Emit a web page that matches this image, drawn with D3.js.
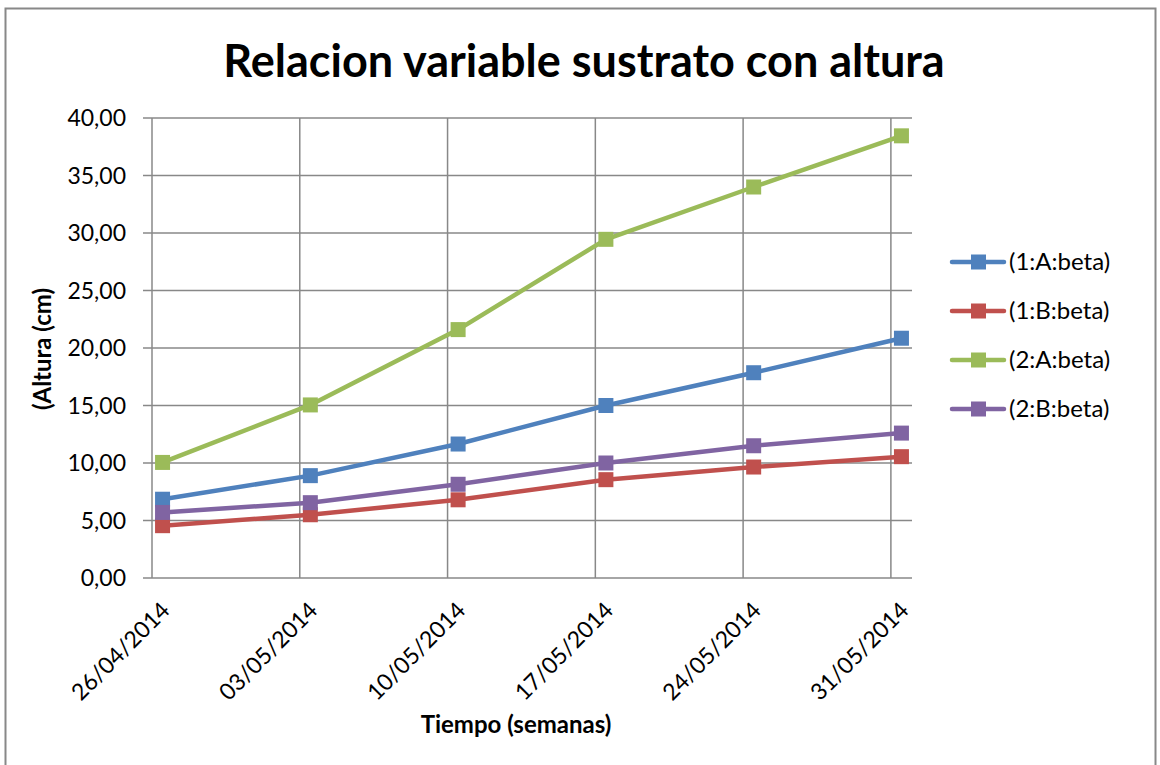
<!DOCTYPE html>
<html>
<head>
<meta charset="utf-8">
<script src="https://cdn.jsdelivr.net/npm/d3@7"></script>
<style>
  body { margin: 0; background: #fff; }
  text { font-family: Lato, "Noto Sans", sans-serif; fill: #000; }
</style>
</head>
<body>
<script>
// data
var dates = ["2014-04-26", "2014-05-03", "2014-05-10", "2014-05-17", "2014-05-24", "2014-05-31"];
var seriesNames = ["(1:A:beta)", "(1:B:beta)", "(2:A:beta)", "(2:B:beta)"];
var serie1A = [6.85, 8.9, 11.65, 15.0, 17.85, 20.85];
var serie1B = [4.55, 5.5, 6.8, 8.55, 9.65, 10.55];
var serie2A = [10.05, 15.05, 21.6, 29.45, 34.0, 38.45];
var serie2B = [5.7, 6.55, 8.15, 10.0, 11.5, 12.6];
var colors = ["#4F81BD", "#C0504D", "#9BBB59", "#8064A2"];
var yTicks = [0, 5, 10, 15, 20, 25, 30, 35, 40];

var parseDate = d3.utcParse("%Y-%m-%d");
var fmtDate = d3.utcFormat("%d/%m/%Y");
var locale = d3.formatLocale({decimal: ",", thousands: ".", grouping: [3], currency: ["", "€"]});
var fmtY = locale.format(".2f");

var margin = {top: 118, right: 248, bottom: 187, left: 152},
    width = 1160 - margin.left - margin.right,
    height = 765 - margin.top - margin.bottom;

var svg = d3.select("body").append("svg")
    .attr("width", 1160)
    .attr("height", 765);

// outer chart border
svg.append("rect")
    .attr("x", 5.5).attr("y", 8.5)
    .attr("width", 1150).attr("height", 780)
    .attr("fill", "none")
    .attr("stroke", "#888")
    .attr("stroke-width", 2);

svg.append("text")
    .attr("x", 584)
    .attr("y", 77)
    .attr("text-anchor", "middle")
    .style("font-size", "45px")
    .style("font-weight", "bold")
    .text("Relacion variable sustrato con altura");

var g = svg.append("g")
    .attr("transform", "translate(" + margin.left + "," + margin.top + ")");

// date axis, one day slot per date, points in the middle of the slot
var first = parseDate(dates[0]);
var last = d3.utcDay.offset(parseDate(dates[dates.length - 1]), 1);
var x = d3.scaleUtc().domain([first, last]).range([0, width]);
var y = d3.scaleLinear().domain([0, 40]).range([height, 0]);

var tickDates = dates.map(parseDate);
var px = function (d) { return x(d3.utcHour.offset(d, 12)); };

// horizontal gridlines (with little tick stubs on the left)
g.append("g").selectAll("line")
    .data(yTicks)
    .join("line")
    .attr("x1", -9).attr("x2", width)
    .attr("y1", function (d) { return y(d); })
    .attr("y2", function (d) { return y(d); })
    .attr("stroke", "#888")
    .attr("stroke-width", 1.5);

// vertical gridlines
g.append("g").selectAll("line")
    .data(tickDates)
    .join("line")
    .attr("x1", function (d) { return x(d); })
    .attr("x2", function (d) { return x(d); })
    .attr("y1", 0).attr("y2", height)
    .attr("stroke", "#888")
    .attr("stroke-width", 1.5);

// y tick labels
g.append("g").selectAll("text")
    .data(yTicks)
    .join("text")
    .attr("x", -26)
    .attr("y", function (d) { return y(d); })
    .attr("dy", "0.36em")
    .attr("text-anchor", "end")
    .style("font-size", "23px")
    .text(fmtY);

// x tick labels, rotated
g.append("g").selectAll("text")
    .data(tickDates)
    .join("text")
    .attr("transform", function (d) {
        return "translate(" + (px(d) + 3) + "," + (height + 28) + ") rotate(-45)";
    })
    .attr("text-anchor", "end")
    .attr("dy", "0.35em")
    .style("font-size", "23px")
    .text(fmtDate);

// axis titles
svg.append("text")
    .attr("transform", "translate(51,349) rotate(-90)")
    .attr("text-anchor", "middle")
    .style("font-size", "24px")
    .style("font-weight", "bold")
    .text("(Altura (cm)");

svg.append("text")
    .attr("x", 516)
    .attr("y", 733)
    .attr("text-anchor", "middle")
    .style("font-size", "24px")
    .style("font-weight", "bold")
    .text("Tiempo (semanas)");

// series
var allSeries = [serie1A, serie1B, serie2A, serie2B];
var line = d3.line()
    .x(function (d, i) { return px(tickDates[i]); })
    .y(function (d) { return y(d); });

allSeries.forEach(function (vals, k) {
    g.append("path")
        .datum(vals)
        .attr("fill", "none")
        .attr("stroke", colors[k])
        .attr("stroke-width", 4.5)
        .attr("stroke-linejoin", "round")
        .attr("d", line);
    g.append("g").selectAll("rect")
        .data(vals)
        .join("rect")
        .attr("x", function (d, i) { return px(tickDates[i]) - 7.5; })
        .attr("y", function (d) { return y(d) - 7.5; })
        .attr("width", 15).attr("height", 15)
        .attr("fill", colors[k]);
});

// legend
var legend = svg.append("g").attr("transform", "translate(950,262)");
var item = legend.selectAll("g")
    .data(seriesNames)
    .join("g")
    .attr("transform", function (d, i) { return "translate(0," + (i * 49) + ")"; });
item.append("line")
    .attr("x1", 2).attr("x2", 54)
    .attr("stroke", function (d, i) { return colors[i]; })
    .attr("stroke-width", 4.5)
    .attr("stroke-linecap", "round");
item.append("rect")
    .attr("x", 21).attr("y", -7.5)
    .attr("width", 15).attr("height", 15)
    .attr("fill", function (d, i) { return colors[i]; });
item.append("text")
    .attr("x", 59)
    .attr("dy", "0.35em")
    .style("font-size", "24px")
    .text(function (d) { return d; });
</script>
</body>
</html>
